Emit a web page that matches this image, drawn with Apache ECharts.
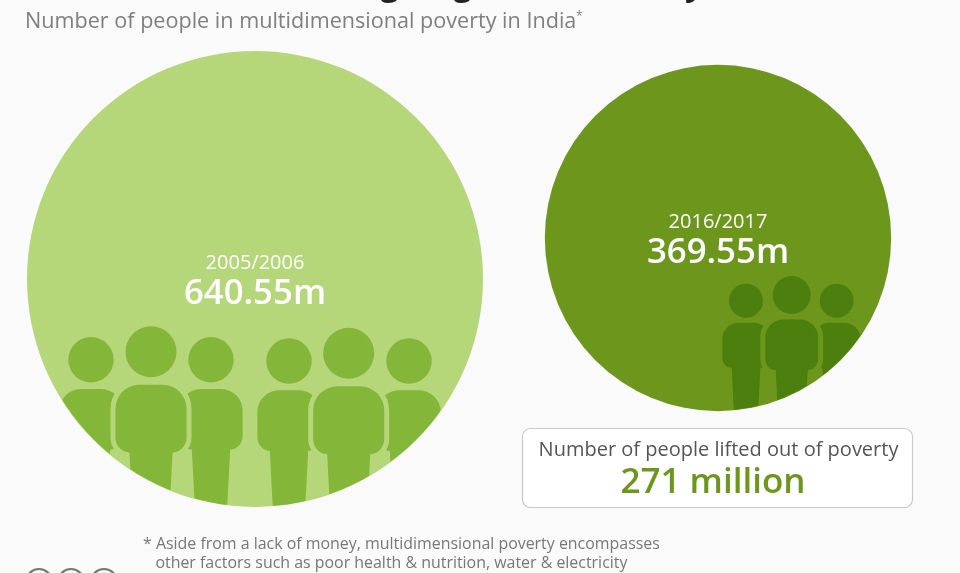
<!DOCTYPE html>
<html>
<head>
<meta charset="utf-8">
<style>html,body{margin:0;padding:0;background:#fafafa}#c{width:960px;height:573px;overflow:hidden}</style>
<script src="https://cdn.jsdelivr.net/npm/echarts@6/dist/echarts.min.js"></script>
</head>
<body>
<div id="c"></div>
<script>
const periods = ['2005/2006', '2016/2017'];
const peopleInPoverty = [640.55, 369.55];
const liftedOutOfPoverty = '271 million';
const chartTitle = 'India Has Been Making Huge Anti-Poverty Gains';
const chartSubtitle = 'Number of people in multidimensional poverty in India';
const footnoteLines = ['* Aside from a lack of money, multidimensional poverty encompasses', '   other factors such as poor health & nutrition, water & electricity'];

const FONT = '"Open Sans", sans-serif';
const circleCenterY = [279, 238];
const diameterPerRootValue = 456 / Math.sqrt(640.55);
const circleColors = ['#b6d67a', '#6d971c'];
const personColors = ['#84b63a', '#4d7f0f'];
const frontScale = [1, 0.745];
const backScale = [0.89, 0.667];
// silhouettes placed relative to each circle's centre: [dx, dy, isFront]
const crowds = [
  [[-164, 80.7, 0], [-44, 80.7, 0], [-104, 72.7, 1], [34, 82, 0], [154, 82, 0], [93.7, 74.3, 1]],
  [[28, 62.7, 0], [118.7, 62.7, 0], [73.7, 57, 1]]
];

function personParts(dx, dy, s, fill, halo, front) {
  const body = { x: dx - 35.5 * s, y: dy + 33 * s, width: 71 * s, height: 68 * s, r: [24 * s, 24 * s, 15 * s, 15 * s] };
  const legs = [[dx - 22 * s, dy + 92 * s], [dx + 22 * s, dy + 92 * s], [dx + 17.5 * s, dy + 178 * s], [dx - 17.5 * s, dy + 178 * s]];
  const parts = [];
  if (front) {
    parts.push({ type: 'rect', shape: body, style: { fill: halo, stroke: halo, lineWidth: 10 } });
    parts.push({ type: 'polygon', shape: { points: legs }, style: { fill: halo, stroke: halo, lineWidth: 10 } });
  }
  parts.push({ type: 'circle', shape: { cx: dx, cy: dy, r: 25.5 * s }, style: { fill: fill } });
  parts.push({ type: 'rect', shape: body, style: { fill: fill } });
  parts.push({ type: 'polygon', shape: { points: legs }, style: { fill: fill } });
  return parts;
}

const chart = echarts.init(document.getElementById('c'), null, { renderer: 'canvas' });
chart.setOption({
  animation: false,
  backgroundColor: '#fafafa',
  title: [
    { text: chartTitle, left: 24, top: -36, textStyle: { fontFamily: FONT, fontSize: 32.5, fontWeight: 700, color: '#222' } }
  ],
  grid: { left: 23.5, width: 926, top: 0, height: 573 },
  xAxis: { type: 'category', data: periods, show: false },
  yAxis: { type: 'value', min: 0, max: 573, inverse: true, show: false },
  series: [
    {
      type: 'scatter',
      clip: false,
      z: 2,
      data: periods.map((p, i) => ({
        name: p,
        value: [i, circleCenterY[i], peopleInPoverty[i]],
        symbolSize: diameterPerRootValue * Math.sqrt(peopleInPoverty[i]),
        itemStyle: { color: circleColors[i], opacity: 1 }
      })),
      label: {
        show: true,
        position: 'inside',
        offset: [0, 1.5],
        formatter: d => '{y|' + d.name + '}\n{v|' + d.value[2].toFixed(2) + 'm}',
        rich: {
          y: { fontFamily: FONT, fontSize: 20, color: '#ffffff', lineHeight: 27, align: 'center' },
          v: { fontFamily: FONT, fontSize: 34.8, fontWeight: 600, color: '#ffffff', lineHeight: 34, align: 'center' }
        }
      }
    },
    {
      type: 'custom',
      coordinateSystem: 'cartesian2d',
      clip: false,
      z: 3,
      data: periods.map((p, i) => [i, circleCenterY[i], peopleInPoverty[i]]),
      renderItem: function (params, api) {
        const i = params.dataIndex;
        const c = api.coord([api.value(0), api.value(1)]);
        const r = diameterPerRootValue * Math.sqrt(api.value(2)) / 2;
        let parts = [];
        crowds[i].forEach(q => {
          const s = q[2] ? frontScale[i] : backScale[i];
          parts = parts.concat(personParts(q[0], q[1], s, personColors[i], circleColors[i], q[2]));
        });
        return { type: 'group', x: c[0], y: c[1], clipPath: { type: 'circle', shape: { cx: 0, cy: 0, r: r - 0.5 } }, children: parts };
      }
    }
  ],
  graphic: [
    { type: 'text', left: 25, top: 11, style: { text: chartSubtitle, font: '21.6px ' + FONT, fill: '#7f7f7f' } },
    { type: 'text', left: 576, top: 11, style: { text: '*', font: '12px ' + FONT, fill: '#7f7f7f' } },
    { type: 'rect', shape: { x: 522.5, y: 428.5, width: 390, height: 79, r: 8 }, style: { fill: '#ffffff', stroke: '#c9c9c9', lineWidth: 1.2 } },
    { type: 'text', x: 718.5, y: 450, style: { text: 'Number of people lifted out of poverty', font: '20px ' + FONT, fill: '#555555', textAlign: 'center', textVerticalAlign: 'middle' } },
    { type: 'text', x: 713, y: 483, style: { text: liftedOutOfPoverty, font: '600 35px ' + FONT, fill: '#6d971c', textAlign: 'center', textVerticalAlign: 'middle' } },
    { type: 'text', x: 143, y: 544, style: { text: footnoteLines[0], font: '15.93px ' + FONT, fill: '#777777', textVerticalAlign: 'middle' } },
    { type: 'text', x: 143, y: 563, style: { text: footnoteLines[1], font: '15.93px ' + FONT, fill: '#777777', textVerticalAlign: 'middle' } },
    { type: 'circle', shape: { cx: 39, cy: 582, r: 13 }, style: { fill: 'none', stroke: '#777777', lineWidth: 2.2 } },
    { type: 'circle', shape: { cx: 71, cy: 582, r: 13 }, style: { fill: 'none', stroke: '#777777', lineWidth: 2.2 } },
    { type: 'circle', shape: { cx: 104, cy: 582, r: 13 }, style: { fill: 'none', stroke: '#777777', lineWidth: 2.2 } }
  ]
});
</script>
</body>
</html>
